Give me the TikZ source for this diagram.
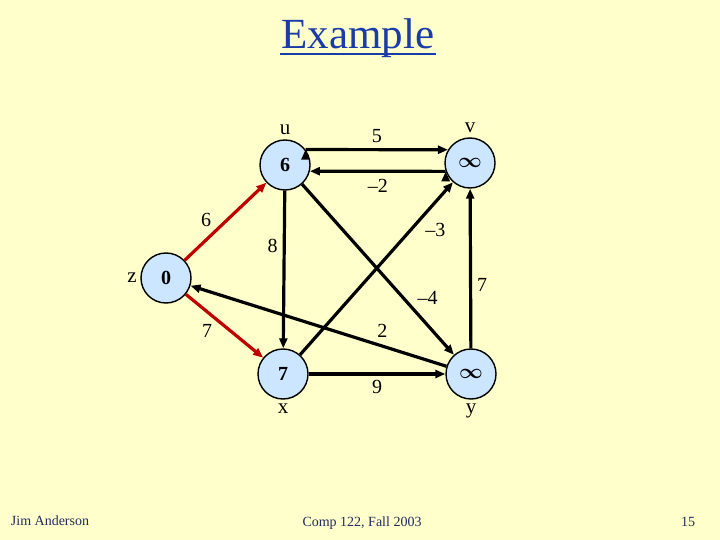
\documentclass[tikz,border=0pt]{standalone}
\usepackage{amsmath}
\usepackage{fontspec}
\setmainfont{Liberation Serif}
\usetikzlibrary{arrows.meta,positioning}
\definecolor{bgyellow}{HTML}{FFFFCC}
\definecolor{nodeblue}{HTML}{CCE6FF}
\definecolor{titleblue}{HTML}{1A3CA8}
\definecolor{footnavy}{HTML}{232B5E}
\definecolor{treered}{HTML}{C00000}
\begin{document}
\begin{tikzpicture}[x=1bp, y=-1bp, >={Triangle[length=10bp,width=8bp]}, line width=3.2bp,
  main node/.style={circle,draw,line width=1.4bp,fill=nodeblue,minimum size=50bp,inner sep=0pt,font=\fontsize{20bp}{20bp}\selectfont\bfseries},
  name label/.style={font=\fontsize{21bp}{21bp}\selectfont,inner sep=1bp},
  weight/.style={text=black,font=\fontsize{20bp}{20bp}\selectfont,inner sep=3bp},
  tree edge/.style={treered,->}]
\fill[bgyellow] (0,0) rectangle (720,540);
\useasboundingbox (0,0) rectangle (720,540);
% title and footer
\node[titleblue, font=\fontsize{43bp}{43bp}\selectfont, inner sep=0pt, anchor=base] (title) at (358,49) {Example};
\draw[titleblue, line width=2.6bp] ([yshift=-5bp]title.base west) -- ([yshift=-5bp]title.base east);
\node[footnavy, font=\fontsize{14bp}{14bp}\selectfont, anchor=base west] (author) at (6,525) {Jim Anderson};
\node[footnavy, font=\fontsize{14bp}{14bp}\selectfont, anchor=base] (course) at (362,526) {Comp 122, Fall 2003};
\node[footnavy, font=\fontsize{14bp}{14bp}\selectfont, anchor=base] (page) at (688,526) {15};
\begin{scope}
\node[main node] (u) at (285,165) {6};
\node[main node] (v) at (470,163) {$\boldsymbol{\infty}$};
\node[main node] (z) at (166,278) {0};
\node[main node] (x) at (283,374) {7};
\node[main node] (y) at (471,374) {$\boldsymbol{\infty}$};
\node[name label, above=2bp of u] (ulab) {u};
\node[name label, above=2bp of v] (vlab) {v};
\node[name label, left=1bp of z] (zlab) {z};
\node[name label, below=2bp of x] (xlab) {x};
\node[name label, below=2bp of y] (ylab) {y};
\end{scope}
\begin{scope}[every node/.style={weight}]
\draw[->] (u.37) edge node[above=2bp] {5} (v.149);
\draw[->] (v.-161) edge node[below=3bp] {\textendash2} (u.-14);
\draw[tree edge] (z) edge node[pos=.38, above left] {6} (u);
\draw[tree edge] (z) edge node[pos=.4, below left] {7} (x);
\draw[->] (u) edge node[pos=.35, left=2bp] {8} (x);
\draw[->] (u) edge node[pos=.73, above right] {\textendash4} (y);
\draw[->] (x) edge node[pos=.79, below right] {\textendash3} (v);
\draw[->] (y) edge node[pos=.25, above=4bp] {2} (z);
\draw[->] (y) edge node[pos=.4, right=2bp] {7} (v);
\draw[->] (x) edge node[below=2bp] {9} (y);
\end{scope}
\end{tikzpicture}
\end{document}
